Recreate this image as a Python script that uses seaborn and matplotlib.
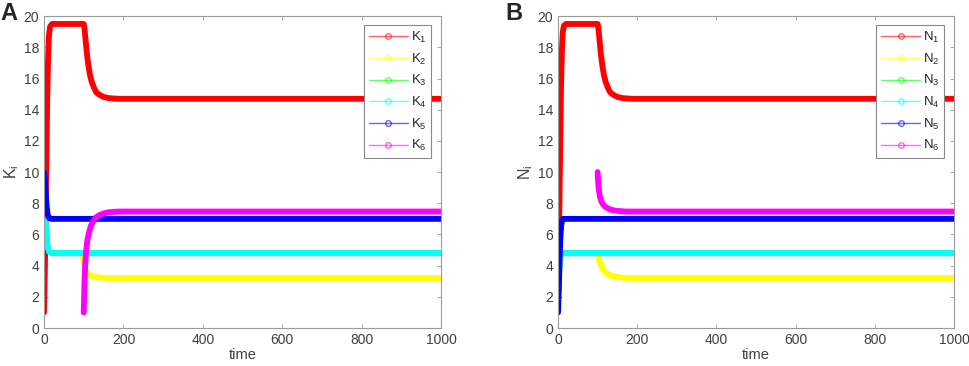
import numpy as np
import pandas as pd
import matplotlib
matplotlib.use("Agg")
import matplotlib.pyplot as plt
from matplotlib.lines import Line2D
import seaborn as sns

# ── data ─────────────────────────────────────────────────────────────────────
# panel A (K_i)
k1_t = [0, 2, 4, 6, 8, 10, 12, 15, 20, 100, 102, 105, 108, 112, 116, 120, 126, 132, 140, 150, 162, 175, 190, 210, 1000]
k1_y = [1, 3.5, 7, 11, 14.5, 17, 18.6, 19.3, 19.5, 19.5, 19.2, 18.4, 17.6, 16.8, 16.2, 15.8, 15.4, 15.1, 14.95, 14.82, 14.75, 14.72, 14.7, 14.7, 14.7]
k2_t = [97, 100, 103, 107, 112, 118, 126, 136, 150, 170, 200, 1000]
k2_y = [4.7, 4.2, 3.85, 3.6, 3.45, 3.36, 3.29, 3.25, 3.22, 3.21, 3.2, 3.2]
k3_t = [0, 3, 6, 9, 13, 20, 1000]
k3_y = [7.5, 7.0, 6.0, 5.2, 4.9, 4.8, 4.8]
k4_t = [0, 3, 6, 9, 13, 20, 1000]
k4_y = [7.5, 7.0, 6.0, 5.2, 4.9, 4.8, 4.8]
k5_t = [0, 2, 4, 6, 8, 10, 13, 18, 1000]
k5_y = [10, 9.6, 8.8, 8.0, 7.5, 7.2, 7.05, 7.0, 7.0]
k6_t = [100, 101, 102, 104, 106, 109, 113, 118, 124, 131, 140, 150, 162, 175, 190, 210, 1000]
k6_y = [1, 2.0, 3.0, 4.2, 4.9, 5.6, 6.1, 6.55, 6.85, 7.1, 7.25, 7.35, 7.42, 7.45, 7.47, 7.47, 7.47]

# panel B (N_i)
n1_t = [0, 2, 4, 6, 8, 10, 12, 15, 20, 100, 102, 105, 108, 112, 116, 120, 126, 132, 140, 150, 162, 175, 190, 210, 1000]
n1_y = [2, 5, 9, 13, 16, 18, 19.0, 19.4, 19.5, 19.5, 19.2, 18.4, 17.6, 16.8, 16.2, 15.8, 15.4, 15.1, 14.95, 14.82, 14.75, 14.72, 14.7, 14.7, 14.7]
n2_t = [98, 101, 104, 108, 113, 119, 126, 134, 144, 156, 170, 190, 1000]
n2_y = [4.8, 4.6, 4.35, 4.05, 3.8, 3.6, 3.46, 3.36, 3.3, 3.25, 3.22, 3.2, 3.2]
n3_t = [0, 2, 4, 6, 9, 14, 1000]
n3_y = [3.0, 3.6, 4.2, 4.55, 4.75, 4.8, 4.8]
n4_t = [0, 2, 4, 6, 9, 14, 1000]
n4_y = [3.0, 3.6, 4.2, 4.55, 4.75, 4.8, 4.8]
n5_t = [0, 2, 4, 6, 8, 10, 13, 18, 1000]
n5_y = [1, 2.5, 4.5, 5.9, 6.6, 6.9, 7.0, 7.0, 7.0]
n6_t = [100, 101, 102, 104, 106, 109, 113, 118, 124, 132, 142, 155, 170, 190, 1000]
n6_y = [10, 9.5, 9.1, 8.7, 8.4, 8.15, 7.95, 7.8, 7.7, 7.6, 7.54, 7.5, 7.47, 7.47, 7.47]

COLORS = ["#ff0000", "#ffff00", "#00ff00", "#00ffff", "#0000ff", "#ff00ff"]
TICK_GREY = "#404040"


def long_frame(series, prefix):
    rows = []
    for i, (t, y) in enumerate(series, start=1):
        rows.append(pd.DataFrame({"time": t, "value": y, "var": f"{prefix}{i}"}))
    return pd.concat(rows, ignore_index=True)


dfA = long_frame([(k1_t, k1_y), (k2_t, k2_y), (k3_t, k3_y),
                  (k4_t, k4_y), (k5_t, k5_y), (k6_t, k6_y)], "K")
dfB = long_frame([(n1_t, n1_y), (n2_t, n2_y), (n3_t, n3_y),
                  (n4_t, n4_y), (n5_t, n5_y), (n6_t, n6_y)], "N")

sns.set_style("white")
plt.rcParams["font.family"] = ["Liberation Sans", "DejaVu Sans"]
plt.rcParams["mathtext.fontset"] = "custom"
plt.rcParams["mathtext.rm"] = "Liberation Sans"

fig = plt.figure(figsize=(9.69, 3.66), dpi=100)
axA = fig.add_axes([0.0454, 0.1038, 0.410, 0.852])
axB = fig.add_axes([0.5759, 0.1038, 0.4087, 0.852])

for ax, df, sym, letter, lx in [
    (axA, dfA, "K", "A", 0.0),
    (axB, dfB, "N", "B", 0.522),
]:
    names = [f"{sym}{i}" for i in range(1, 7)]
    sns.lineplot(data=df, x="time", y="value", hue="var", hue_order=names,
                 palette=COLORS, sort=False, linewidth=4.2, ax=ax,
                 legend=False, solid_capstyle="round", estimator=None)
    ax.set_xlim(0, 1000)
    ax.set_ylim(0, 20)
    ax.set_xticks(range(0, 1001, 200))
    ax.set_yticks(range(0, 21, 2))
    ax.tick_params(direction="in", length=3, width=0.6, colors="#999999",
                   labelcolor=TICK_GREY, labelsize=10, top=True, right=True,
                   bottom=True, left=True)
    for sp in ax.spines.values():
        sp.set_color("#9a9a9a")
        sp.set_linewidth(0.8)
    ax.set_xlabel("time", fontsize=10.5, color=TICK_GREY, labelpad=1)
    ax.set_ylabel(f"$\\mathrm{{{sym}}}_\\mathrm{{i}}$", fontsize=11.5,
                  color=TICK_GREY, labelpad=2)

    handles = [Line2D([0], [0], color=c, lw=1.0, alpha=0.6, marker="o",
                      markersize=4, markerfacecolor="none", markeredgecolor=c)
               for c in COLORS]
    labels = [f"$\\mathrm{{{sym}}}_\\mathrm{{{i}}}$" for i in range(1, 7)]
    leg = ax.legend(handles, labels, loc="upper right",
                    bbox_to_anchor=(0.975, 0.971), fontsize=9.5,
                    handlelength=3.0, labelspacing=0.5, borderpad=0.35,
                    handletextpad=0.2, borderaxespad=0, frameon=True,
                    fancybox=False, framealpha=1)
    leg.get_frame().set_edgecolor("#888888")
    leg.get_frame().set_linewidth(0.8)

    fig.text(lx, 0.995, letter, fontsize=17, fontweight="bold",
             ha="left", va="top")

fig.savefig("out.png", dpi=100)
